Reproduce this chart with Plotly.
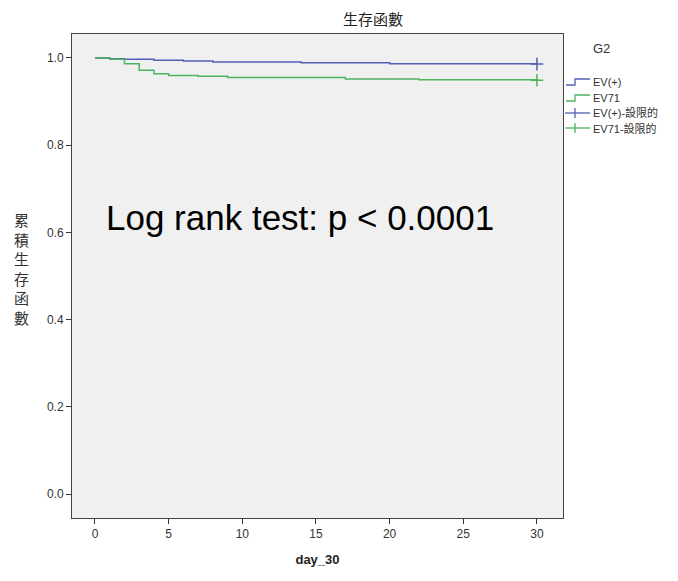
import plotly.graph_objects as go

# ---- data ----
ev_pos_days = [0, 1, 2, 4, 6, 8, 14, 20, 30]
ev_pos_surv = [1.000, 0.998, 0.997, 0.995, 0.993, 0.991, 0.989, 0.987, 0.986]

ev71_days = [0, 1, 2, 3, 4, 5, 7, 9, 17, 22, 30]
ev71_surv = [1.000, 0.997, 0.987, 0.972, 0.964, 0.960, 0.958, 0.955, 0.952, 0.950, 0.949]

censor_day = [30]
ev_pos_censor = [0.986]
ev71_censor = [0.949]

x_ticks = [0, 5, 10, 15, 20, 25, 30]
y_ticks = [0.0, 0.2, 0.4, 0.6, 0.8, 1.0]

series_names = ["EV(+)", "EV71", "EV(+)-設限的", "EV71-設限的"]
blue = "#5060b4"
green = "#4cb35e"
series_colors = [blue, green, blue, green]

# page has an 8px body margin; size the figure so it fills the 678x581 window
OFF = 8
W, H = 678 - OFF, 581 - OFF
ML, MR, MT, MB = 72 - OFF, 115, 34 - OFF, 63
PW, PH = W - ML - MR, H - MT - MB


def px_x(p):  # window pixel -> paper
    return (p - OFF - ML) / PW


def px_y(p):
    return 1 - (p - OFF - MT) / PH


fig = go.Figure()
fig.add_trace(go.Scatter(x=ev_pos_days, y=ev_pos_surv, mode="lines", line_shape="hv",
                         line=dict(color=blue, width=1.5), name=series_names[0]))
fig.add_trace(go.Scatter(x=ev71_days, y=ev71_surv, mode="lines", line_shape="hv",
                         line=dict(color=green, width=1.5), name=series_names[1]))
fig.add_trace(go.Scatter(x=censor_day, y=ev_pos_censor, mode="markers",
                         marker=dict(symbol="cross-thin", size=9, line=dict(color=blue, width=1.5)),
                         name=series_names[2]))
fig.add_trace(go.Scatter(x=censor_day, y=ev71_censor, mode="markers",
                         marker=dict(symbol="cross-thin", size=9, line=dict(color=green, width=1.5)),
                         name=series_names[3]))

axis_font = dict(family="Liberation Sans, Arial", size=12, color="#333")

# ---- custom legend (SPSS style) ----
shapes = []
annotations = []
legend_rows = [82, 98, 113, 128]
for i, (name, col, ry) in enumerate(zip(series_names, series_colors, legend_rows)):
    if i < 2:
        path = (f"M {px_x(566)} {px_y(ry + 3)} L {px_x(575)} {px_y(ry + 3)} "
                f"L {px_x(575)} {px_y(ry - 3)} L {px_x(590)} {px_y(ry - 3)}")
        shapes.append(dict(type="path", xref="paper", yref="paper", path=path,
                           line=dict(color=col, width=1.3)))
    else:
        shapes.append(dict(type="line", xref="paper", yref="paper",
                           x0=px_x(565), x1=px_x(590), y0=px_y(ry), y1=px_y(ry),
                           line=dict(color=col, width=1.3)))
        shapes.append(dict(type="line", xref="paper", yref="paper",
                           x0=px_x(575), x1=px_x(575), y0=px_y(ry - 5), y1=px_y(ry + 5),
                           line=dict(color=col, width=1.3)))
    annotations.append(dict(text=name, x=px_x(591), y=px_y(ry), xref="paper", yref="paper",
                            xanchor="left", yanchor="middle", showarrow=False,
                            font=dict(family="Liberation Sans, Noto Sans CJK TC", size=11, color="#333")))

annotations += [
    dict(text="生存函數", x=px_x(373), y=px_y(18), xref="paper", yref="paper", xanchor="center",
         yanchor="middle", showarrow=False,
         font=dict(family="Noto Sans CJK TC", size=15, color="#222")),
    dict(text="累<br>積<br>生<br>存<br>函<br>數", x=px_x(21), y=px_y(268), xref="paper", yref="paper",
         xanchor="center", yanchor="middle", showarrow=False,
         font=dict(family="Noto Sans CJK TC", size=15, color="#333")),
    dict(text="G2", x=px_x(601), y=px_y(49), xref="paper", yref="paper", xanchor="center",
         yanchor="middle", showarrow=False,
         font=dict(family="Liberation Sans, Arial", size=13, color="#333")),
    dict(text="Log rank test: p < 0.0001", x=px_x(104), y=0.635, xref="paper", yref="y",
         xanchor="left", yanchor="middle", showarrow=False,
         font=dict(family="Liberation Sans, Arial", size=35, color="black")),
]

fig.update_layout(
    width=W, height=H,
    margin=dict(l=ML, r=MR, t=MT, b=MB, autoexpand=False),
    paper_bgcolor="white",
    plot_bgcolor="#f0f0f0",
    showlegend=False,
    xaxis=dict(range=[-1.56, 31.77], tickvals=x_ticks, ticks="outside", ticklen=5,
               tickcolor="#333", showgrid=False, zeroline=False, showline=True, mirror=True,
               linecolor="#444", linewidth=1, tickfont=axis_font, automargin=False,
               title=dict(text="<b>day_30</b>", font=dict(family="Liberation Sans, Arial", size=13, color="#222"),
                          standoff=14)),
    yaxis=dict(range=[-0.055, 1.055], tickvals=y_ticks, tickformat=".1f", ticks="outside", ticklen=5,
               tickcolor="#333", showgrid=False, zeroline=False, showline=True, mirror=True,
               linecolor="#444", linewidth=1, tickfont=axis_font, automargin=False),
    shapes=shapes,
    annotations=annotations,
)

fig.write_html("out.html")
